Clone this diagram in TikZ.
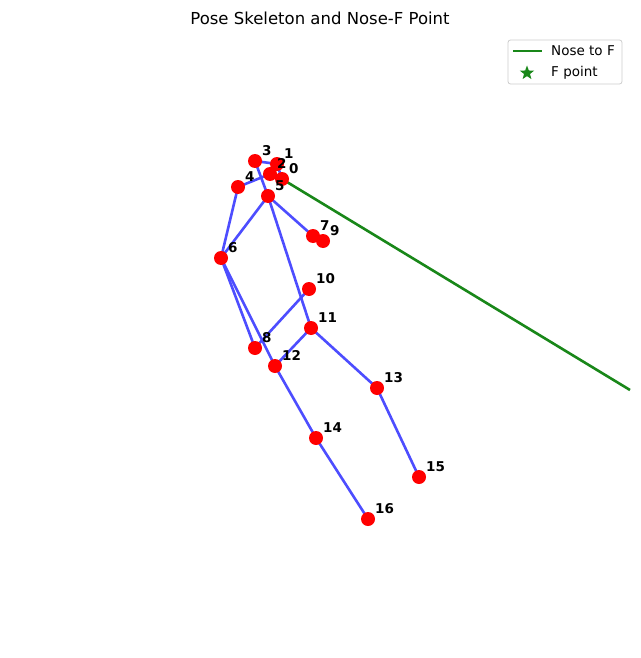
\documentclass[tikz,border=0pt]{standalone}
\usepackage{fontspec}
\setmainfont{DejaVu Sans}
\usetikzlibrary{shapes.geometric}
\definecolor{bone}{RGB}{77,77,255}
\definecolor{nosegreen}{RGB}{25,135,25}
\definecolor{legendgray}{RGB}{204,204,204}
\tikzset{
  bonestyle/.style={draw=bone, line width=2.6pt},
  jointstyle/.style={circle, fill=red, minimum size=14pt, inner sep=0pt},
  labelstyle/.style={anchor=base west, inner sep=0pt, font=\fontsize{13.5}{16}\selectfont\bfseries},
  greenline/.style={draw=nosegreen, line width=2.6pt},
}
\begin{document}
\begin{tikzpicture}[x=1pt,y=-1pt]
\useasboundingbox (0,0) rectangle (640,658);
% title
\node[font=\fontsize{16.5}{19}\selectfont] (title) at (320,18) {Pose Skeleton and Nose-F Point};
% joint coordinates
\coordinate (c0) at (282,179);
\coordinate (c1) at (277,164);
\coordinate (c2) at (270,174);
\coordinate (c3) at (255,161);
\coordinate (c4) at (238,187);
\coordinate (c5) at (268,196);
\coordinate (c6) at (221,258);
\coordinate (c7) at (313,236);
\coordinate (c8) at (255,348);
\coordinate (c9) at (323,241);
\coordinate (c10) at (309,289);
\coordinate (c11) at (311,328);
\coordinate (c12) at (275,366);
\coordinate (c13) at (377,388);
\coordinate (c14) at (316,438);
\coordinate (c15) at (419,477);
\coordinate (c16) at (368,519);
\coordinate (fend) at (630,390);
% bones
\foreach \a/\b in {15/13,13/11,16/14,14/12,11/12,5/11,6/12,5/6,5/7,6/8,7/9,8/10,1/2,0/1,0/2,1/3,2/4,3/5,4/6}
  \draw[bonestyle] (c\a) -- (c\b);
% nose to F
\draw[greenline] (c0) -- (fend);
% joints
\foreach \i in {0,...,16}
  \node[jointstyle] (p\i) at (c\i) {};
% labels
\foreach \i in {0,...,16}
  \node[labelstyle] (l\i) at ([shift={(7,-6)}]c\i) {\i};
% legend
\node[draw=legendgray, rounded corners=2.5pt, line width=0.8pt, minimum width=114pt, minimum height=44pt, inner sep=0pt] (legend) at (565,62) {};
\coordinate (la) at (513,51);
\coordinate (lb) at (542,51);
\draw[greenline] (la) -- (lb);
\node[anchor=west, inner sep=0pt, font=\fontsize{13.5}{16}\selectfont] (t1) at (551,51) {Nose to F};
\node[star, star points=5, star point ratio=2.4, fill=nosegreen, minimum size=15pt, inner sep=0pt] (star) at (527,73) {};
\node[anchor=west, inner sep=0pt, font=\fontsize{13.5}{16}\selectfont] (t2) at (551,73) {F point};
\end{tikzpicture}
\end{document}
